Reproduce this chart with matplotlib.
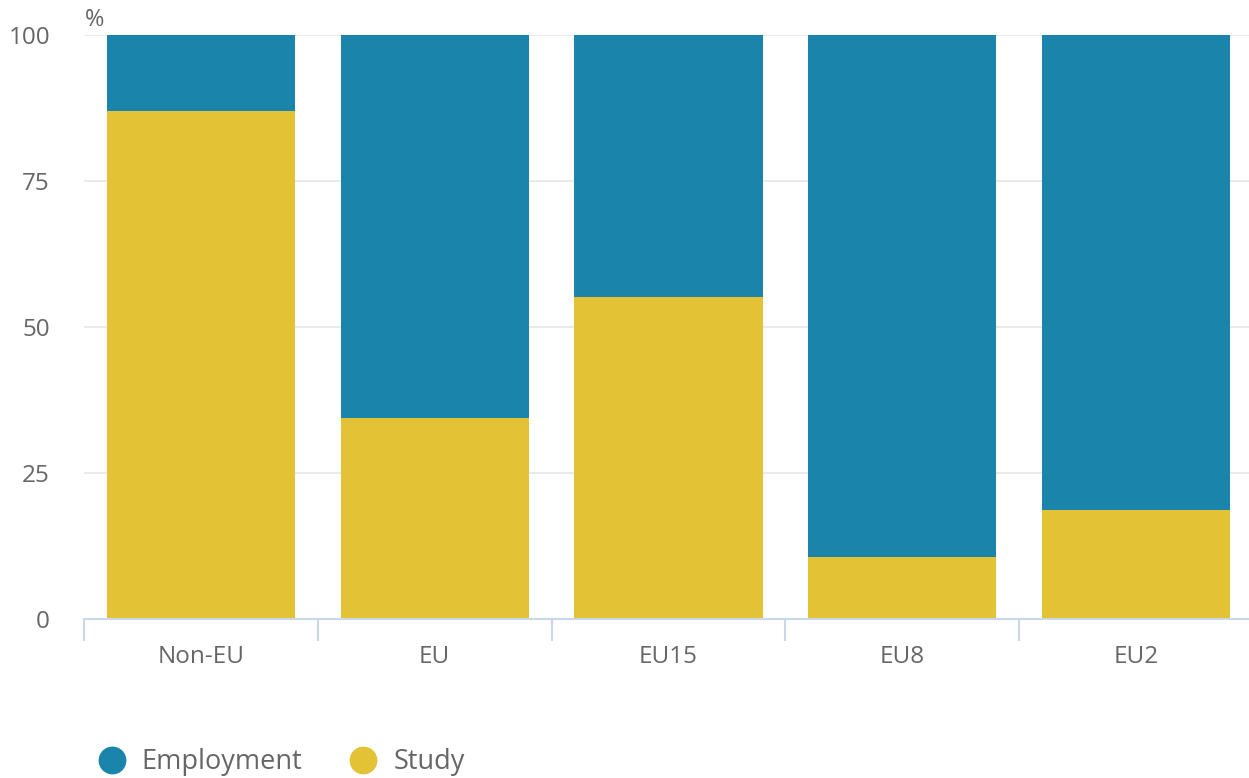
import matplotlib.pyplot as plt
from matplotlib.lines import Line2D
import numpy as np

plt.rcParams['font.family'] = ['Open Sans', 'DejaVu Sans']

# Data
categories = ['Non-EU', 'EU', 'EU15', 'EU8', 'EU2']
study = [87.0, 34.4, 55.1, 10.6, 18.7]
employment = [100 - s for s in study]

blue = '#1a84ab'
yellow = '#e3c236'
text_col = '#666666'

W, H = 1249, 778
fig = plt.figure(figsize=(W / 100, H / 100), dpi=100)
ax = fig.add_axes([84 / W, 1 - 619 / H, (1253 - 84) / W, (619 - 35) / H])

x = np.arange(len(categories))
ax.bar(x, study, width=0.805, color=yellow, zorder=2)
ax.bar(x, employment, bottom=study, width=0.805, color=blue, zorder=2)

ax.set_xlim(-0.5, len(categories) - 0.5)
ax.set_ylim(0, 100)
ax.set_yticks([0, 25, 50, 75, 100])
ax.grid(axis='y', color='#e6e6e6', linewidth=1.2, zorder=0)

for s in ['top', 'right', 'left']:
    ax.spines[s].set_visible(False)
ax.spines['bottom'].set_color('#ccd6eb')
ax.spines['bottom'].set_linewidth(1.5)

ax.set_xticks(x)
ax.set_xticklabels(categories)
ax.set_xticks(np.arange(len(categories) + 1) - 0.5, minor=True)
ax.tick_params(axis='x', which='major', length=0, pad=19, labelsize=17.5, labelcolor=text_col)
ax.tick_params(axis='x', which='minor', length=16, width=1.5, color='#ccd6eb')
ax.tick_params(axis='y', length=0, pad=24.5, labelsize=17.5, labelcolor=text_col)
for lab in ax.get_yticklabels():
    lab.set_horizontalalignment('right')

fig.text(85 / W, 1 - 20 / H, '%', fontsize=17, color=text_col, va='center', ha='left')

handles = [
    Line2D([], [], marker='o', linestyle='', markersize=19, color=blue, label='Employment'),
    Line2D([], [], marker='o', linestyle='', markersize=19, color=yellow, label='Study'),
]
fig.legend(handles=handles, loc='center left', bbox_to_anchor=(93 / W, 1 - 762 / H),
           ncol=2, frameon=False, fontsize=19.5, labelcolor=text_col,
           handletextpad=0.4, handlelength=1.4, columnspacing=1.55, borderaxespad=0, borderpad=0)

fig.savefig('out.png', dpi=100)
